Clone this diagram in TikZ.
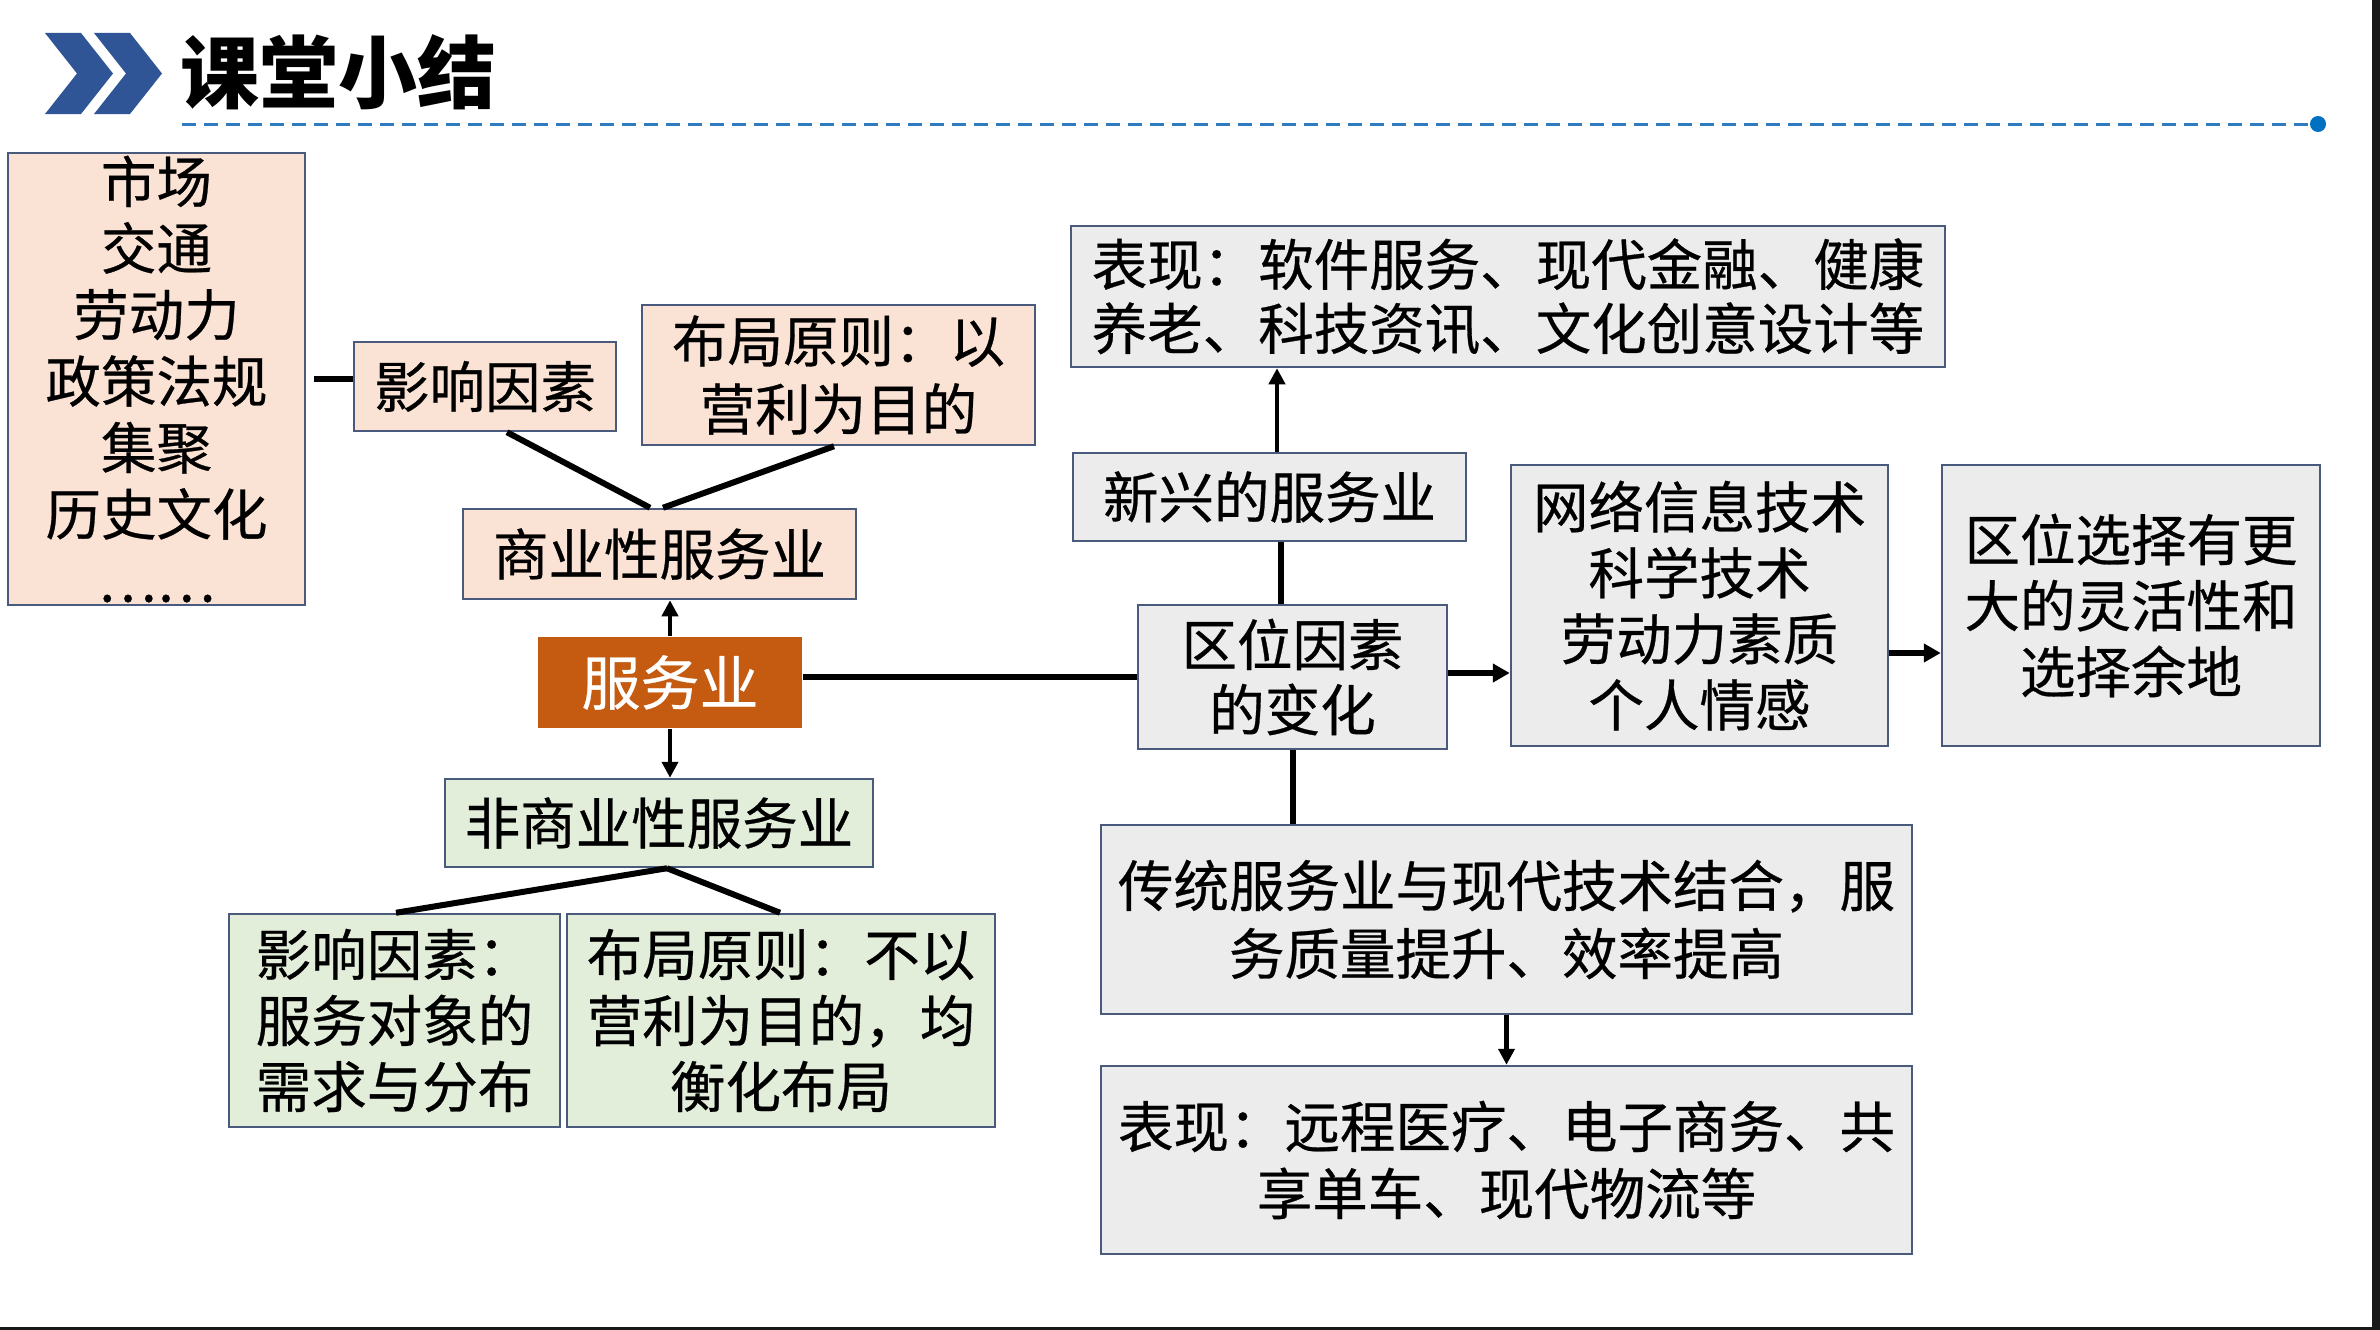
\documentclass[tikz,border=0pt]{standalone}
\usepackage{fontspec}
\newfontfamily\cjk[FakeBold=0.5]{Noto Sans CJK SC}
\newfontfamily\cjktitle{Noto Sans CJK SC}
\usetikzlibrary{arrows.meta}
\definecolor{peach}{HTML}{FAE2D5}
\definecolor{lgreen}{HTML}{E2EEDA}
\definecolor{lgray}{HTML}{ECECEC}
\definecolor{dorange}{HTML}{C55A11}
\definecolor{bordercol}{HTML}{4A5A7C}
\definecolor{chevblue}{HTML}{2F5597}
\definecolor{dashblue}{HTML}{2E7CBF}
\definecolor{dotblue}{HTML}{0070C0}
\tikzset{
  box/.style={draw=bordercol, line width=2.5pt, inner sep=0pt, align=center,
    font=\cjk\fontsize{55.5}{66}\selectfont, text=black},
  pbox/.style={box, fill=peach},
  gbox/.style={box, fill=lgreen},
  ybox/.style={box, fill=lgray},
  thk/.style={line width=6pt, black},
  arr/.style={line width=4.5pt, black, -{Triangle[length=16pt,width=16pt]}},
  tarr/.style={line width=6pt, black, -{Triangle[length=17pt,width=18pt]}},
  dashline/.style={line width=3pt, dashblue, dash pattern=on 14pt off 8pt},
}
\begin{document}
\begin{tikzpicture}[x=1pt,y=-1pt]
\fill[white] (0,0) rectangle (2380,1330);
\useasboundingbox (0,0) rectangle (2380,1330);
% screen edges
\fill[black!90] (2372,0) rectangle (2380,1330);
\fill[black!90] (0,1327) rectangle (2380,1330);
% title
\fill[chevblue] (45,33) -- (81,33) -- (113,73.5) -- (81,114) -- (45,114) -- (77,73.5) -- cycle;
\fill[chevblue] (94,33) -- (130,33) -- (162,73.5) -- (130,114) -- (94,114) -- (126,73.5) -- cycle;
\node[anchor=west, inner sep=0pt, font=\cjktitle\bfseries\fontsize{79}{79}\selectfont] (title) at (180,72) {课堂小结};
\coordinate (dl0) at (182,124);
\coordinate (dl1) at (2318,124);
\draw[dashline] (dl0) -- (dl1);
\fill[dotblue] (dl1) circle (8);

% left part
\node[pbox, minimum width=297pt, minimum height=452pt, font=\cjk\fontsize{55.5}{66.5}\selectfont] (fac) at (156.5,379)
  {市场\\交通\\劳动力\\政策法规\\集聚\\历史文化\\……};
\node[pbox, minimum width=262pt, minimum height=89pt] (yx) at (485,386.5) {影响因素};
\node[pbox, minimum width=393pt, minimum height=140pt, font=\cjk\fontsize{55.5}{68}\selectfont] (bj1) at (838.5,375) {布局原则：以\\营利为目的};
\node[pbox, minimum width=393pt, minimum height=90pt] (syx) at (659.5,554) {商业性服务业};
\node[box, draw=none, fill=dorange, text=white, minimum width=264pt, minimum height=91pt, font=\cjk\fontsize{59}{59}\selectfont] (fwy) at (670,682.5) {服务业};
\node[gbox, minimum width=428pt, minimum height=88pt] (fsy) at (659,823) {非商业性服务业};
\node[gbox, minimum width=331pt, minimum height=213pt] (yx2) at (394.5,1020.5) {影响因素：\\服务对象的\\需求与分布};
\node[gbox, minimum width=428pt, minimum height=213pt] (bj2) at (781,1020.5) {布局原则：不以\\营利为目的，均\\衡化布局};

% right part
\node[ybox, minimum width=874pt, minimum height=141pt, font=\cjk\fontsize{55.5}{64}\selectfont] (bx1) at (1508,296.5) {表现：软件服务、现代金融、健康\\养老、科技资讯、文化创意设计等};
\node[ybox, minimum width=393pt, minimum height=88pt] (xx) at (1269.5,497) {新兴的服务业};
\node[ybox, minimum width=309pt, minimum height=144pt, font=\cjk\fontsize{55.5}{65}\selectfont] (qw) at (1292.5,677) {区位因素\\的变化};
\node[ybox, minimum width=377pt, minimum height=281pt] (wl) at (1699.5,605.5) {网络信息技术\\科学技术\\劳动力素质\\个人情感};
\node[ybox, minimum width=378pt, minimum height=281pt] (qx) at (2131,605.5) {区位选择有更\\大的灵活性和\\选择余地};
\node[ybox, minimum width=811pt, minimum height=189pt, font=\cjk\fontsize{55.5}{68}\selectfont] (ct) at (1506.5,919.5) {传统服务业与现代技术结合，服\\务质量提升、效率提高};
\node[ybox, minimum width=811pt, minimum height=188pt, font=\cjk\fontsize{55.5}{67}\selectfont] (bx2) at (1506.5,1160) {表现：远程医疗、电子商务、共\\享单车、现代物流等};

% connectors left
\draw[thk] ([xshift=8pt]fac.east) -- (yx.west |- fac.east);
\draw[thk] ([xshift=22pt]yx.south) -- ([xshift=-9.5pt]syx.north);
\draw[thk] ([xshift=-4.5pt]bj1.south) -- ([xshift=3.5pt]syx.north);
\draw[arr] (fwy.north) -- (fwy.north |- syx.south);
\draw[arr] (fwy.south) -- (fwy.south |- fsy.north);
\draw[thk] ([xshift=8pt]fsy.south) -- ([xshift=1.5pt]yx2.north);
\draw[thk] ([xshift=8pt]fsy.south) -- ([xshift=-1pt]bj2.north);
\draw[thk] (fwy.east |- qw.west) -- (qw.west);

% connectors right
\draw[thk] ([xshift=-11.5pt]qw.north) -- ([xshift=-11.5pt]qw.north |- xx.south);
\draw[arr] ([xshift=7.5pt]xx.north) -- ([xshift=7.5pt]xx.north |- bx1.south);
\draw[thk] (qw.south) -- (qw.south |- ct.north);
\draw[arr] (ct.south) -- (bx2.north);
\draw[tarr] ([yshift=4pt]qw.east) -- ([yshift=4pt]qw.east -| wl.west);
\draw[tarr] ([yshift=-47.5pt]wl.east) -- ([yshift=-47.5pt]wl.east -| qx.west);
\end{tikzpicture}
\end{document}
